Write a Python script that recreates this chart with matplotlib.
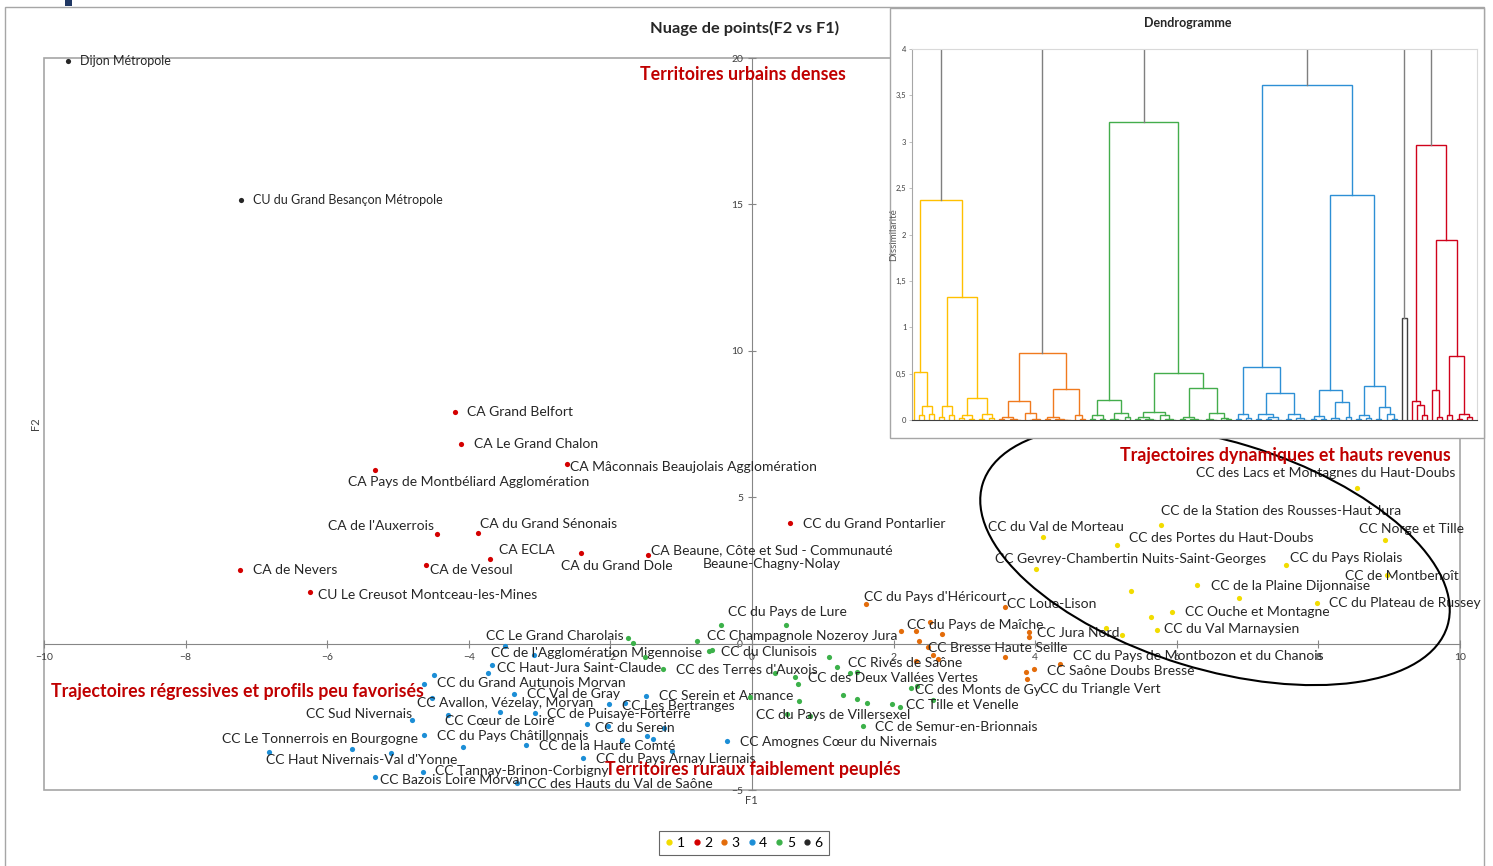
import matplotlib
matplotlib.use('Agg')
import matplotlib.pyplot as plt
from matplotlib.patches import Rectangle, Ellipse
from matplotlib.lines import Line2D
from matplotlib.transforms import IdentityTransform
import numpy as np

plt.rcParams['font.family'] = ['Lato', 'DejaVu Sans']

W, H = 1493, 866

# ---- Données : coordonnées F1 / F2 par classe ----
# classe 1
noms_1 = ["CC des Lacs et Montagnes du Haut-Doubs", "CC de la Station des Rousses-Haut Jura",
          "CC du Val de Morteau", "CC des Portes du Haut-Doubs", "CC Norge et Tille",
          "CC Gevrey-Chambertin Nuits-Saint-Georges", "CC du Pays Riolais", "CC de Montbenoît", "",
          "CC de la Plaine Dijonnaise", "", "CC du Plateau de Russey", "CC Ouche et Montagne", "",
          "CC du Val Marnaysien", "", ""]
f1_1 = [8.55, 5.78, 4.11, 5.16, 8.94, 4.01, 7.54, 8.97, 5.35, 6.29, 6.88, 7.98, 5.93, 5.64, 5.72, 5.00, 5.23]
f2_1 = [5.31, 4.05, 3.64, 3.37, 3.54, 2.55, 2.68, 2.34, 1.80, 2.00, 1.56, 1.39, 1.08, 0.91, 0.46, 0.53, 0.29]

# classe 2
noms_2 = ["CA Grand Belfort", "CA Le Grand Chalon", "CA Pays de Montbéliard Agglomération",
          "CA Mâconnais Beaujolais Agglomération", "CA de l'Auxerrois", "CA du Grand Sénonais", "CA ECLA",
          "CA de Vesoul", "CA du Grand Dole", "CA Beaune, Côte et Sud - Communauté\nBeaune-Chagny-Nolay",
          "CA de Nevers", "CU Le Creusot Montceau-les-Mines", "CC du Grand Pontarlier"]
f1_2 = [-4.19, -4.11, -5.32, -2.61, -4.45, -3.87, -3.70, -4.60, -2.42, -1.47, -7.23, -6.24, 0.54]
f2_2 = [7.91, 6.82, 5.93, 6.13, 3.74, 3.78, 2.89, 2.68, 3.09, 3.03, 2.51, 1.76, 4.12]

# classe 3
noms_3 = ["CC du Pays d'Héricourt", "CC Loue-Lison", "", "", "CC du Pays de Maîche", "", "",
          "CC Bresse Haute Seille", "", "", "", "CC Jura Nord", "", "", "CC Saône Doubs Bresse", "",
          "CC du Triangle Vert", "CC du Pays de Montbozon et du Chanois"]
f1_3 = [1.61, 3.57, 2.10, 2.32, 2.51, 2.68, 2.36, 2.49, 2.56, 2.63, 2.32, 3.91, 3.91, 3.57, 3.98, 3.87, 3.88, 4.35]
f2_3 = [1.35, 1.25, 0.43, 0.43, 0.74, 0.33, 0.09, -0.12, -0.39, -0.53, -0.59, 0.40, 0.23, -0.46, -0.87, -0.97, -1.21, -0.70]

# classe 4
noms_4 = ["", "CC de l'Agglomération Migennoise", "CC Haut-Jura Saint-Claude", "", "",
          "CC du Grand Autunois Morvan", "CC Val de Gray", "CC Avallon, Vézelay, Morvan", "",
          "CC de Puisaye-Forterre", "CC Cœur de Loire", "CC Sud Nivernais", "", "CC Les Bertranges",
          "CC Serein et Armance", "CC du Serein", "", "", "CC du Pays Châtillonnais", "",
          "CC de la Haute Comté", "", "", "", "", "CC du Pays Arnay Liernais", "CC Amognes Cœur du Nivernais",
          "CC Tannay-Brinon-Corbigny", "CC des Hauts du Val de Saône", "CC Le Tonnerrois en Bourgogne",
          "CC Haut Nivernais-Val d'Yonne", "", "CC Bazois Loire Morvan"]
f1_4 = [-3.49, -3.08, -3.67, -3.73, -4.49, -4.63, -3.36, -4.52, -3.56, -3.06, -4.29, -4.80, -2.02, -1.79,
        -1.50, -2.33, -2.03, -1.24, -4.63, -4.08, -3.19, -1.84, -1.48, -1.40, -1.13, -2.39, -0.35, -4.65,
        -3.32, -5.65, -6.82, -5.10, -5.32]
f2_4 = [-0.08, -0.39, -0.73, -1.00, -1.07, -1.38, -1.72, -1.86, -2.34, -2.37, -2.44, -2.61, -2.06, -2.03,
        -1.79, -2.75, -2.81, -2.88, -3.12, -3.53, -3.47, -3.29, -3.16, -3.26, -3.67, -3.91, -3.33, -4.39,
        -4.76, -3.60, -3.70, -3.74, -4.56]

# classe 5
noms_5 = ["CC Le Grand Charolais", "", "", "CC des Terres d'Auxois", "CC Champagnole Nozeroy Jura", "",
          "CC du Clunisois", "", "CC du Pays de Lure", "", "", "", "CC des Deux Vallées Vertes",
          "CC Rives de Saône", "", "", "", "", "CC du Pays de Villersexel", "", "", "", "", "",
          "CC Tille et Venelle", "CC des Monts de Gy", "", "", "CC de Semur-en-Brionnais"]
f1_5 = [-1.75, -1.68, -1.51, -1.26, -0.78, -0.61, -0.56, -0.44, 0.48, -0.03, 0.32, 0.61, 0.65, 1.09, 1.20,
        1.38, 1.48, 0.66, 0.49, 0.82, 1.29, 1.48, 1.62, 1.98, 2.09, 2.25, 2.33, 2.56, 1.57]
f2_5 = [0.19, 0.02, -0.46, -0.87, 0.09, -0.25, -0.22, 0.64, 0.64, -1.82, -1.01, -1.14, -1.38, -0.46, -0.80,
        -1.00, -0.97, -1.96, -2.40, -2.47, -1.76, -1.89, -2.03, -2.06, -2.17, -1.52, -1.45, -1.93, -2.81]

# classe 6
noms_6 = ["Dijon Métropole", "CU du Grand Besançon Métropole"]
f1_6 = [-9.66, -7.22]
f2_6 = [19.90, 15.15]

# placement des étiquettes (décalage en pixels, alignement)
lab_1 = [(98, 15, 'right'), (0, 14, 'left'), (-55, 10, 'left'), (12, 7, 'left'), (-26, 11, 'left'),
         (-41, 10, 'left'), (4, 7, 'left'), (-42, -1, 'left'), None, (14, -1, 'left'), None,
         (12, 0, 'left'), (13, 0, 'left'), None, (7, 1, 'left'), None, None]
lab_2 = [(12, 0, 'left'), (13, 0, 'left'), (-27, -12, 'left'), (3, -3, 'left'), (-3, 8, 'right'),
         (2, 9, 'left'), (9, 9, 'left'), (4, -5, 'left'), (-20, -13, 'left'), (124, -2, 'center'),
         (13, 0, 'left'), (8, -3, 'left'), (13, -1, 'left')]
lab_3 = [(-2, 7, 'left'), (2, 3, 'left'), None, None, (-23, -3, 'left'), None, None, (0, -1, 'left'),
         None, None, None, (8, -1, 'left'), None, None, (13, -2, 'left'), None, (13, -10, 'left'),
         (13, 8, 'left')]
lab_4 = [None, (-43, 2, 'left'), (5, -3, 'left'), None, None, (13, 1, 'left'), (13, 0, 'left'),
         (-15, -5, 'left'), None, (12, -1, 'left'), (-3, -6, 'left'), (0, 6, 'right'), None,
         (-3, -3, 'left'), (13, 0, 'left'), (8, -4, 'left'), None, None, (13, -1, 'left'), None,
         (13, -1, 'left'), None, None, None, None, (13, -1, 'left'), (13, -1, 'left'), (12, 1, 'left'),
         (11, -1, 'left'), (66, 10, 'right'), (-3, -8, 'left'), None, (5, -3, 'left')]
lab_5 = [(-4, 2, 'right'), None, None, (13, -1, 'left'), (10, 5, 'left'), None, (9, -2, 'left'), None,
         (-58, 13, 'left'), None, None, None, (10, 6, 'left'), (19, -6, 'left'), None, None, None, None,
         (-31, -1, 'left'), None, None, None, None, None, (6, 2, 'left'), (4, -2, 'left'), None, None,
         (12, -1, 'left')]
lab_6 = [(12, 0, 'left'), (12, 0, 'left')]

couleurs = {1: '#F2DC00', 2: '#D40000', 3: '#E36C0A', 4: '#1C8ED6', 5: '#3CB14A', 6: '#262626'}

# ---- Dendrogramme (hauteurs, 0 = feuille) ----
o = 0
arbre_jaune = (2.37, (0.52, o, (0.15, (0.05, o, o), (0.07, o, o))),
               (1.33, (0.15, (0.03, o, o), (0.05, o, o)),
                (0.24, (0.05, (0.02, o, o), (0.01, o, o)), (0.06, (0.01, o, o), (0.02, o, o)))))
arbre_orange = (0.72, (0.20, (0.03, (0.01, o, o), (0.015, o, (0.005, o, o))), (0.08, o, (0.01, (0.005, o, o), o))),
                (0.33, (0.03, (0.01, o, o), (0.012, o, (0.005, o, (0.003, o, o)))), (0.05, o, (0.01, o, o))))
arbre_vert = (3.21, (0.22, (0.05, (0.01, o, o), (0.01, o, o)), (0.08, (0.01, o, (0.005, o, o)), (0.03, o, o))),
              (0.51, (0.09, (0.03, (0.01, o, o), (0.01, o, (0.005, o, o))), (0.05, o, (0.01, o, (0.005, o, o)))),
               (0.34, (0.03, (0.01, o, o), (0.01, o, (0.005, o, o))),
                (0.08, (0.01, o, (0.005, o, o)), (0.02, o, (0.01, o, o))))))
arbre_bleu = (3.61, (0.57, (0.07, (0.01, o, o), (0.02, o, o)),
                     (0.29, (0.06, (0.01, o, o), (0.03, (0.01, o, o), (0.005, o, o))),
                      (0.07, (0.01, o, o), (0.02, o, (0.005, o, o))))),
              (2.43, (0.32, (0.04, (0.01, o, o), (0.015, o, o)), (0.19, (0.02, o, (0.005, o, o)), (0.03, o, o))),
               (0.37, (0.05, (0.01, o, o), (0.02, o, o)), (0.14, (0.01, o, o), (0.06, o, (0.01, o, o))))))
arbre_noir = (1.10, o, o)
arbre_rouge = (2.96, (0.21, o, (0.16, o, (0.05, o, o))),
               (1.94, (0.32, o, (0.03, o, o)), (0.69, (0.05, o, o), (0.07, (0.01, o, o), (0.03, o, o)))))

# ---- Figure ----
fig = plt.figure(figsize=(W / 100, H / 100), dpi=100)
fig.patch.set_facecolor('white')

# cadre extérieur
fig.add_artist(Rectangle((5 / W, -0.1), 1479 / W, 1 - 7 / H + 0.1, transform=fig.transFigure,
                         fill=False, ec='#A6A6A6', lw=1, zorder=1))
fig.add_artist(Rectangle((65 / W, 1 - 6 / H), 7 / W, 6 / H, transform=fig.transFigure,
                         fc='#203864', ec='none', zorder=1))

ax = fig.add_axes([44 / W, 1 - 790 / H, 1416 / W, 732 / H])
ax.set_xlim(-10, 10)
ax.set_ylim(-5, 20)

groupes = [(1, noms_1, f1_1, f2_1, lab_1), (2, noms_2, f1_2, f2_2, lab_2), (3, noms_3, f1_3, f2_3, lab_3),
           (4, noms_4, f1_4, f2_4, lab_4), (5, noms_5, f1_5, f2_5, lab_5), (6, noms_6, f1_6, f2_6, lab_6)]
for k, noms, xs, ys, labs in groupes:
    ax.scatter(xs, ys, s=14, color=couleurs[k], linewidths=0, zorder=3)
    taille = 9 if k == 6 else 10
    for nom, x, y, lab in zip(noms, xs, ys, labs):
        if nom and lab:
            dx, dy, ha = lab
            ax.annotate(nom, (x, y), xytext=(dx, dy), textcoords='offset pixels', ha=ha, va='center',
                        fontsize=taille, color='#262626', multialignment='center', annotation_clip=False)

# axes croisés en 0
ax.spines['left'].set_position(('data', 0))
ax.spines['bottom'].set_position(('data', 0))
ax.spines['top'].set_visible(False)
ax.spines['right'].set_visible(False)
for s in ['left', 'bottom']:
    ax.spines[s].set_color('#868686')
ax.add_patch(Rectangle((0, 0), 1, 1, transform=ax.transAxes, fill=False, ec='#A6A6A6', lw=1.2,
                       clip_on=False, zorder=0))
ax.set_xticks(range(-10, 11, 2))
ax.set_yticks(range(-5, 21, 5))
ax.tick_params(direction='inout', length=6, width=0.8, color='#868686', labelsize=7.5, labelcolor='#404040')

fig.text(751 / W, 1 - 801 / H, 'F1', ha='center', va='center', fontsize=8, color='#404040')
fig.text(35 / W, 1 - 424 / H, 'F2', ha='center', va='center', fontsize=8, color='#404040', rotation=90)
fig.text(745 / W, 1 - 28 / H, 'Nuage de points(F2 vs F1)', ha='center', va='center', fontsize=11.8,
         fontweight='bold', color='#262626')

# textes d'interprétation
rouge = '#C00000'
fig.text(640 / W, 1 - 74 / H, 'Territoires urbains denses', color=rouge, fontweight='bold', fontsize=12.8, va='center')
fig.text(51 / W, 1 - 691 / H, 'Trajectoires régressives et profils peu favorisés', color=rouge,
         fontweight='bold', fontsize=12.8, va='center')
fig.text(605 / W, 1 - 770 / H, 'Territoires ruraux faiblement peuplés', color=rouge, fontweight='bold',
         fontsize=12.8, va='center', zorder=4)
fig.text(1120 / W, 1 - 456 / H, 'Trajectoires dynamiques et hauts revenus', color=rouge, fontweight='bold',
         fontsize=12.8, va='center')

# ellipse autour de la classe 1
fig.add_artist(Ellipse((1215, H - 555), 486, 228, angle=-17, fill=False, ec='black', lw=1.5,
                       transform=IdentityTransform(), zorder=1.5))

# légende
poignees = [Line2D([], [], ls='', marker='o', ms=3.5, color=couleurs[k]) for k in range(1, 7)]
leg = fig.legend(poignees, ['1', '2', '3', '4', '5', '6'], ncol=6, loc='center',
                 bbox_to_anchor=(744 / W, 1 - 843 / H), fontsize=10, frameon=True, fancybox=False,
                 edgecolor='#404040', handlelength=0.5, handletextpad=0.3, columnspacing=0.6, borderpad=0.45)
leg.get_frame().set_linewidth(0.8)

# ---- encart dendrogramme ----
fig.add_artist(Rectangle((890 / W, 1 - 438 / H), 594 / W, 430 / H, transform=fig.transFigure,
                         fc='white', ec='#A6A6A6', lw=1, zorder=3))
axd = fig.add_axes([912 / W, 1 - 420 / H, 565 / W, 371 / H], zorder=4)
fig.text(1188 / W, 1 - 23 / H, 'Dendrogramme', ha='center', va='center', fontsize=9,
         fontweight='bold', color='#262626', zorder=5)


def trace(node, x0, couleur):
    if not isinstance(node, tuple):
        return x0, 0.0, x0 + 1
    h, a, b = node
    xa, ha_, nx = trace(a, x0, couleur)
    xb, hb, nx = trace(b, nx, couleur)
    axd.plot([xa, xa, xb, xb], [ha_, h, h, hb], color=couleur, lw=1.0, solid_joinstyle='miter')
    return (xa + xb) / 2, h, nx


arbres = [(arbre_jaune, '#FFC000'), (arbre_orange, '#F07A1E'), (arbre_vert, '#43AD4C'),
          (arbre_bleu, '#2D8FD5'), (arbre_noir, '#404040'), (arbre_rouge, '#D0021B')]
x0 = 0
for arbre, c in arbres:
    xr, hr, x0 = trace(arbre, x0, c)
    axd.plot([xr, xr], [hr, 4.5], color='#7F7F7F', lw=1.0)

axd.set_xlim(-0.4, x0)
axd.set_ylim(0, 4)
axd.set_xticks([])
yt = np.arange(0, 4.01, 0.5)
axd.set_yticks(yt)
axd.set_yticklabels([f'{v:g}'.replace('.', ',') for v in yt])
axd.tick_params(axis='y', labelsize=5.5, length=2, width=0.5, color='#A6A6A6', labelcolor='#404040', pad=2)
axd.set_ylabel('Dissimilarité', fontsize=7, color='#595959')
axd.yaxis.set_label_coords(-0.025, 0.5)
axd.spines['left'].set_color('#A6A6A6')
axd.spines['bottom'].set_color('#404040')
axd.spines['top'].set_color('#D9D9D9')
axd.spines['right'].set_color('#D9D9D9')
for s in axd.spines.values():
    s.set_linewidth(0.8)

fig.savefig('out.png', dpi=100)
